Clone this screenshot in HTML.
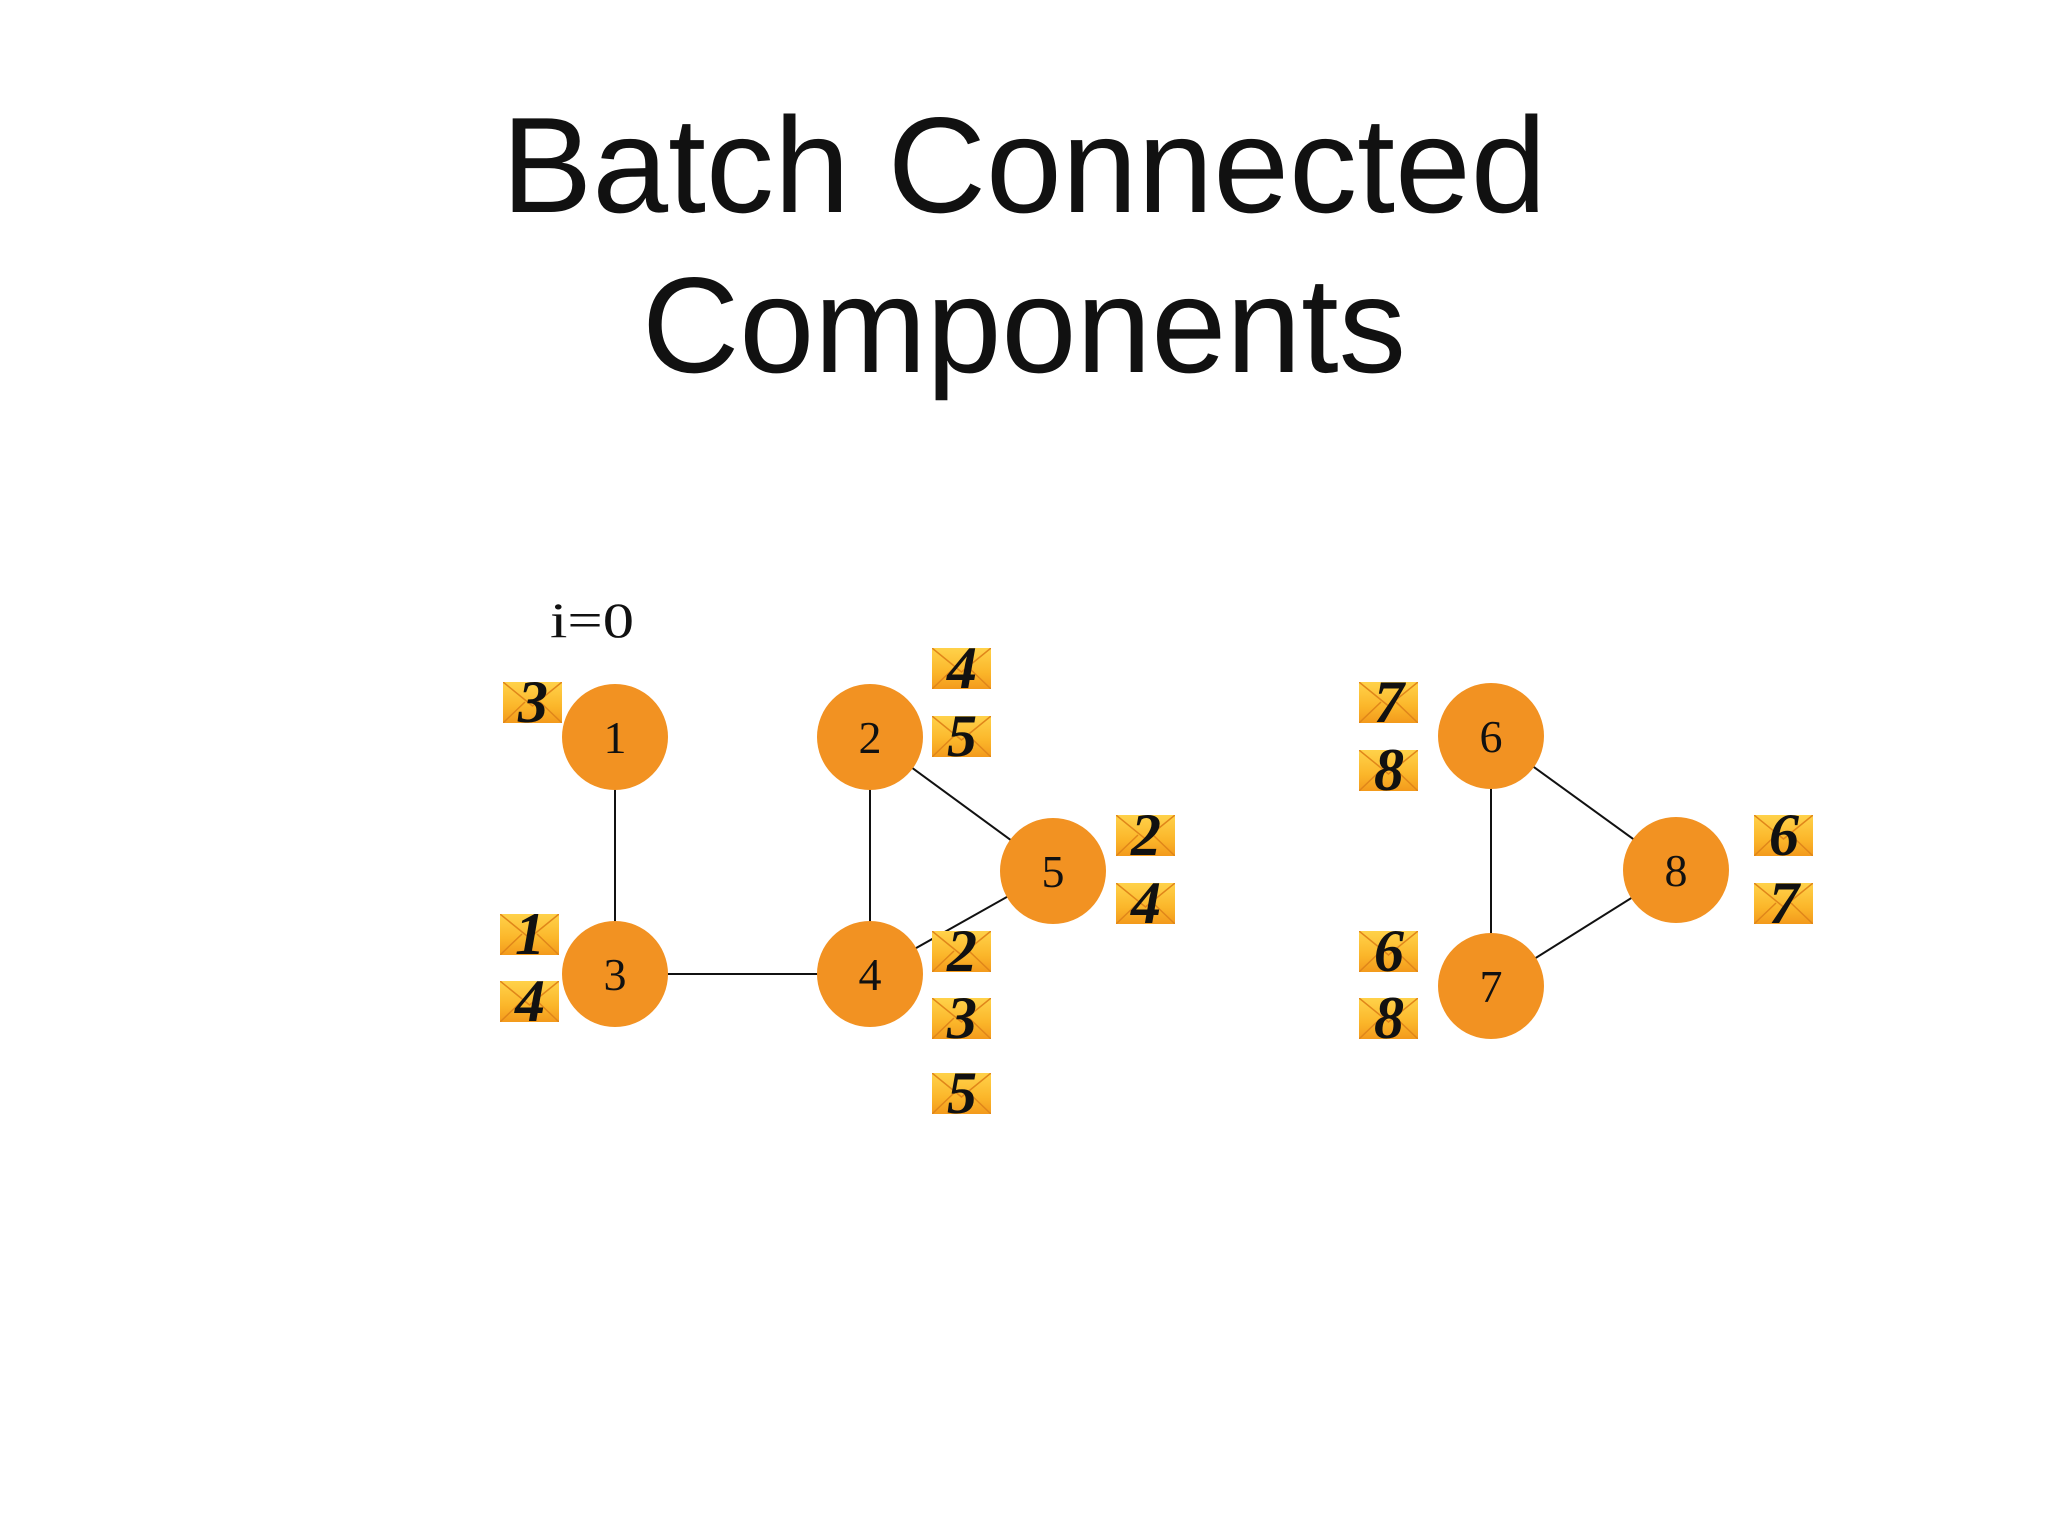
<!DOCTYPE html>
<html><head><meta charset="utf-8"><style>
html,body{margin:0;padding:0;background:#fff}
svg{display:block}
</style></head><body>
<svg width="2048" height="1536" viewBox="0 0 2048 1536" xmlns="http://www.w3.org/2000/svg">
<defs>
<linearGradient id="eg" x1="0" y1="0" x2="0" y2="1">
<stop offset="0" stop-color="#ffd24a"/><stop offset="0.6" stop-color="#fbb62a"/><stop offset="1" stop-color="#f39a1c"/>
</linearGradient>
<symbol id="env" viewBox="0 0 59 41">
<rect x="0" y="0" width="59" height="41" fill="url(#eg)"/>
<path d="M0 0 L29.5 24 L59 0 M0 41 L22 20 M59 41 L37 20" stroke="#e0861a" stroke-width="1.5" fill="none"/>
</symbol>
</defs>
<rect width="2048" height="1536" fill="#fff"/>
<g font-family="Liberation Sans, sans-serif" font-size="136" fill="#111" text-anchor="middle">
<text x="1024" y="212" textLength="1045" lengthAdjust="spacingAndGlyphs">Batch Connected</text>
<text x="1024" y="372" textLength="764" lengthAdjust="spacingAndGlyphs">Components</text>
</g>
<text x="592" y="637" font-family="Liberation Serif, serif" font-size="50" text-anchor="middle" fill="#111" textLength="84" lengthAdjust="spacingAndGlyphs">i=0</text>
<g stroke="#111" stroke-width="2">
<line x1="615" y1="737" x2="615" y2="974"/>
<line x1="615" y1="974" x2="870" y2="974"/>
<line x1="870" y1="737" x2="870" y2="974"/>
<line x1="870" y1="737" x2="1053" y2="871"/>
<line x1="870" y1="974" x2="1053" y2="871"/>
<line x1="1491" y1="736" x2="1491" y2="986"/>
<line x1="1491" y1="736" x2="1676" y2="870"/>
<line x1="1491" y1="986" x2="1676" y2="870"/>
</g>
<g fill="#f29222">
<circle cx="615" cy="737" r="53"/><circle cx="870" cy="737" r="53"/>
<circle cx="615" cy="974" r="53"/><circle cx="870" cy="974" r="53"/>
<circle cx="1053" cy="871" r="53"/><circle cx="1491" cy="736" r="53"/>
<circle cx="1491" cy="986" r="53"/><circle cx="1676" cy="870" r="53"/>
</g>
<g font-family="Liberation Serif, serif" font-size="46" fill="#111" text-anchor="middle">
<text x="615" y="753">1</text><text x="870" y="753">2</text>
<text x="615" y="990">3</text><text x="870" y="990">4</text>
<text x="1053" y="887">5</text><text x="1491" y="752">6</text>
<text x="1491" y="1002">7</text><text x="1676" y="886">8</text>
</g>
<g font-family="Liberation Serif, serif" font-size="60" font-style="italic" font-weight="bold" fill="#111" text-anchor="middle">
<use href="#env" x="503" y="682" width="59" height="41"/><text x="533" y="722">3</text>
<use href="#env" x="932" y="648" width="59" height="41"/><text x="962" y="688">4</text>
<use href="#env" x="932" y="716" width="59" height="41"/><text x="962" y="756">5</text>
<use href="#env" x="1116" y="815" width="59" height="41"/><text x="1146" y="855">2</text>
<use href="#env" x="1116" y="883" width="59" height="41"/><text x="1146" y="923">4</text>
<use href="#env" x="500" y="914" width="59" height="41"/><text x="530" y="954">1</text>
<use href="#env" x="500" y="981" width="59" height="41"/><text x="530" y="1021">4</text>
<use href="#env" x="932" y="931" width="59" height="41"/><text x="962" y="971">2</text>
<use href="#env" x="932" y="998" width="59" height="41"/><text x="962" y="1038">3</text>
<use href="#env" x="932" y="1073" width="59" height="41"/><text x="962" y="1113">5</text>
<use href="#env" x="1359" y="682" width="59" height="41"/><text x="1389" y="722">7</text>
<use href="#env" x="1359" y="750" width="59" height="41"/><text x="1389" y="790">8</text>
<use href="#env" x="1359" y="931" width="59" height="41"/><text x="1389" y="971">6</text>
<use href="#env" x="1359" y="998" width="59" height="41"/><text x="1389" y="1038">8</text>
<use href="#env" x="1754" y="815" width="59" height="41"/><text x="1784" y="855">6</text>
<use href="#env" x="1754" y="883" width="59" height="41"/><text x="1784" y="923">7</text>
</g>
</svg>
</body></html>
